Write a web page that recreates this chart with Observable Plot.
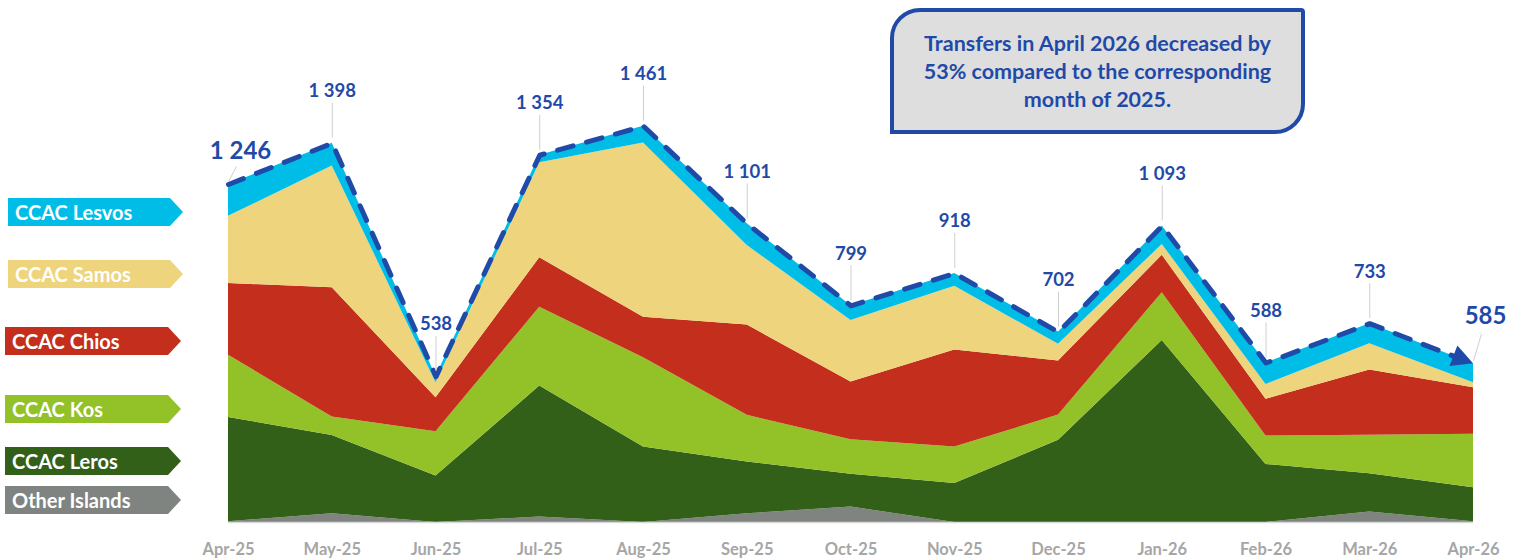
<!DOCTYPE html>
<html><head><meta charset="utf-8">
<script src="https://cdn.jsdelivr.net/npm/d3@7"></script>
<script src="https://cdn.jsdelivr.net/npm/@observablehq/plot@0.6"></script>
<style>
html,body{margin:0;padding:0;background:#fff;}
#wrap{position:relative;width:1521px;height:560px;font-family:Lato,"Open Sans",sans-serif;}
#wrap svg{position:absolute;left:0;top:0;}
.tag{position:absolute;height:28px;color:#fff;font-weight:700;font-size:20px;line-height:28px;padding-left:7px;box-sizing:border-box;white-space:nowrap;
 clip-path:polygon(0 0,calc(100% - 13px) 0,100% 50%,calc(100% - 13px) 100%,0 100%);}
#note{position:absolute;left:890px;top:8px;width:415px;height:126px;box-sizing:border-box;border:4px solid #1f4aa8;background:#dedede;
 border-radius:30px 4px 30px 0;display:flex;align-items:center;justify-content:center;text-align:center;color:#1f4aa8;font-weight:700;font-size:21.5px;line-height:28px;}
</style></head>
<body><div id="wrap"></div>
<script>
// ---- data ----
const months = ["Apr-25","May-25","Jun-25","Jul-25","Aug-25","Sep-25","Oct-25","Nov-25","Dec-25","Jan-26","Feb-26","Mar-26","Apr-26"];
const series = ["Other Islands","CCAC Leros","CCAC Kos","CCAC Chios","CCAC Samos","CCAC Lesvos"];
const otherIslands = [3, 32, 0, 20, 0, 32, 57, 0, 0, 0, 0, 39, 3];
const leros  = [384, 289, 171, 483, 278, 191, 121, 144, 303, 671, 214, 141, 125];
const kos    = [230, 68, 164, 291, 329, 172, 127, 134, 93, 176, 105, 142, 197];
const chios  = [264, 476, 125, 182, 150, 333, 213, 358, 199, 138, 135, 240, 172];
const samos  = [248, 449, 55, 350, 642, 293, 227, 235, 62, 40, 55, 97, 18];
const lesvos = [117, 84, 23, 28, 62, 80, 54, 47, 45, 68, 79, 74, 70];
const totals = [1246, 1398, 538, 1354, 1461, 1101, 799, 918, 702, 1093, 588, 733, 585];
const note = ["Transfers in April 2026 decreased by", "53% compared to the corresponding", "month of 2025."];

// ---- styles ----
const colors = ["#7f8481", "#336018", "#92c128", "#c32f1c", "#eed47c", "#00bde8"];
const blue = "#1f4aa8";
const W = 1521, H = 560, mL = 228, mR = 48, mT = 88, mB = 38, yMax = 1600;
const ppu = (H - mT - mB) / yMax;           // px per unit
const xStep = (W - mL - mR) / (months.length - 1);

const values = [otherIslands, leros, kos, chios, samos, lesvos];
const rows = series.flatMap((s, j) => months.map((m, i) => ({i, series: s, value: values[j][i]})));
const tot = months.map((m, i) => ({i, total: totals[i]}));
const fmt = v => v >= 1000 ? Math.floor(v / 1000) + " " + String(v % 1000).padStart(3, "0") : String(v);
const mid = tot.slice(1, -1), first = [tot[0]], last = [tot[tot.length - 1]];

const arrowHead = (index, scales) => {
  const n = totals.length;
  const x0 = scales.x(n - 2), y0 = scales.y(totals[n - 2]);
  const x1 = scales.x(n - 1), y1 = scales.y(totals[n - 1]);
  const a = Math.atan2(y1 - y0, x1 - x0) * 180 / Math.PI;
  const p = document.createElementNS("http://www.w3.org/2000/svg", "path");
  p.setAttribute("d", "M0,0L-21,-11L-21,11Z");
  p.setAttribute("fill", blue);
  p.setAttribute("transform", `translate(${x1},${y1}) rotate(${a})`);
  return p;
};

const chart = Plot.plot({
  width: W, height: H, marginLeft: mL, marginRight: mR, marginTop: mT, marginBottom: mB,
  style: {fontFamily: "Lato, 'Open Sans', sans-serif", color: "#a6a6a6", background: "transparent", overflow: "visible"},
  x: {type: "linear", domain: [0, months.length - 1], axis: null},
  y: {domain: [0, yMax], axis: null},
  color: {domain: series, range: colors},
  marks: [
    Plot.areaY(rows, {x: "i", y: "value", fill: "series", order: series}),
    Plot.ruleY([0], {stroke: "#d9d9d9", strokeWidth: 1.5}),
    Plot.axisX({ticks: d3.range(months.length), tickFormat: i => months[i], tickSize: 0, tickPadding: 21, fontSize: 16.5, fontWeight: "bold", label: null}),
    Plot.lineY(tot, {x: "i", y: "total", stroke: blue, strokeWidth: 5, strokeDasharray: "16,14", strokeLinecap: "round"}),
    arrowHead,
    Plot.ruleX(mid, {x: "i", y1: d => d.total + 5 / ppu, y2: d => d.total + 40 / ppu, stroke: "#cfcfcf", strokeWidth: 1}),
    Plot.link(first, {x1: "i", y1: d => d.total + 3 / ppu, x2: d => d.i + 8 / xStep, y2: d => d.total + 18 / ppu, stroke: "#cfcfcf", strokeWidth: 1}),
    Plot.link(last, {x1: "i", y1: d => d.total + 3 / ppu, x2: d => d.i + 8 / xStep, y2: d => d.total + 30 / ppu, stroke: "#cfcfcf", strokeWidth: 1}),
    Plot.text(mid, {x: "i", y: "total", text: d => fmt(d.total), dy: -52, fill: blue, fontSize: 18.5, fontWeight: "bold"}),
    Plot.text(first, {x: "i", y: "total", text: d => fmt(d.total), dx: 12, dy: -33, fill: blue, fontSize: 24, fontWeight: "bold"}),
    Plot.text(last, {x: "i", y: "total", text: d => fmt(d.total), dx: 12, dy: -48, fill: blue, fontSize: 24, fontWeight: "bold"})
  ]
});

const wrap = document.getElementById("wrap");
wrap.appendChild(chart);

// legend tags (top to bottom)
const tagLayout = [
  {s: "CCAC Lesvos", left: 8, top: 198, width: 175},
  {s: "CCAC Samos", left: 8, top: 260, width: 175},
  {s: "CCAC Chios", left: 5, top: 327, width: 176},
  {s: "CCAC Kos", left: 5, top: 395, width: 176},
  {s: "CCAC Leros", left: 5, top: 447, width: 176},
  {s: "Other Islands", left: 5, top: 486, width: 176}
];
for (const t of tagLayout) {
  const d = document.createElement("div");
  d.className = "tag";
  d.textContent = t.s;
  d.style.left = t.left + "px";
  d.style.top = t.top + "px";
  d.style.width = t.width + "px";
  d.style.background = colors[series.indexOf(t.s)];
  wrap.appendChild(d);
}

const box = document.createElement("div");
box.id = "note";
box.innerHTML = "<div>" + note.join("<br>") + "</div>";
wrap.appendChild(box);
</script>
</body></html>
